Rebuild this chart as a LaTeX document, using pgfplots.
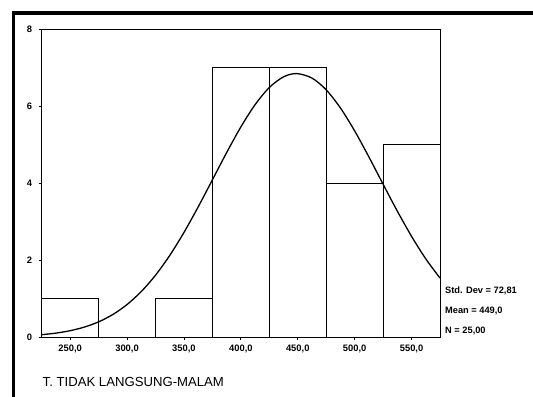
\documentclass[border=0pt]{standalone}
\usepackage{pgfplots}
\pgfplotsset{compat=1.18}
\usepackage{fontspec}
\setmainfont{Liberation Sans}
\begin{document}
\begin{tikzpicture}[x=1bp,y=1bp]
\useasboundingbox (0,0) rectangle (533,396);
\fill[white] (0,0) rectangle (533,396);
\draw[line width=3.2bp] (13.5,-20) -- (13.5,383) -- (560,383);
\begin{axis}[
  at={(41.7bp,59bp)}, anchor=south west,
  scale only axis, width=398.3bp, height=307.7bp,
  xmin=225, xmax=575, ymin=0, ymax=8,
  xtick={250,300,350,400,450,500,550},
  xticklabels={{250,0},{300,0},{350,0},{400,0},{450,0},{500,0},{550,0}},
  ytick={0,2,4,6,8},
  yticklabels={0,2,4,6,8},
  tick align=outside, tick pos=left,
  major tick length=3bp,
  every tick/.style={black, line width=0.9bp},
  axis line style={black, line width=0.9bp},
  ticklabel style={font=\fontsize{9.4}{10}\selectfont\bfseries},
  xticklabel style={yshift=-1bp},
  yticklabel style={xshift=-3bp},
  clip=false,
]
\addplot[ybar interval, draw=black, fill=white, line width=0.9bp]
  coordinates {(225,1) (275,0) (325,1) (375,7) (425,7) (475,4) (525,5) (575,5)};
\addplot[black, line width=1.3bp, smooth] coordinates {
(225,0.060) (237.5,0.101) (250,0.164) (262.5,0.258) (275,0.394) (287.5,0.585)
(300,0.844) (312.5,1.182) (325,1.606) (337.5,2.120) (350,2.718) (362.5,3.382)
(375,4.086) (387.5,4.794) (400,5.461) (412.5,6.040) (425,6.487) (437.5,6.764)
(449,6.849) (462.5,6.732) (475,6.426) (487.5,5.955) (500,5.359) (512.5,4.682)
(525,3.972) (537.5,3.272) (550,2.617) (562.5,2.032) (575,1.532)};
\end{axis}
\node[anchor=west, inner sep=0, font=\fontsize{9.3}{11}\selectfont\bfseries] at (445,105) {Std. Dev = 72,81};
\node[anchor=west, inner sep=0, font=\fontsize{9.3}{11}\selectfont\bfseries] at (445,85) {Mean = 449,0};
\node[anchor=west, inner sep=0, font=\fontsize{9.3}{11}\selectfont\bfseries] at (445,65) {N = 25,00};
\node[anchor=west, inner sep=0, font=\fontsize{13.2}{15}\selectfont] at (42.5,14.3) {T. TIDAK LANGSUNG-MALAM};
\end{tikzpicture}
\end{document}
